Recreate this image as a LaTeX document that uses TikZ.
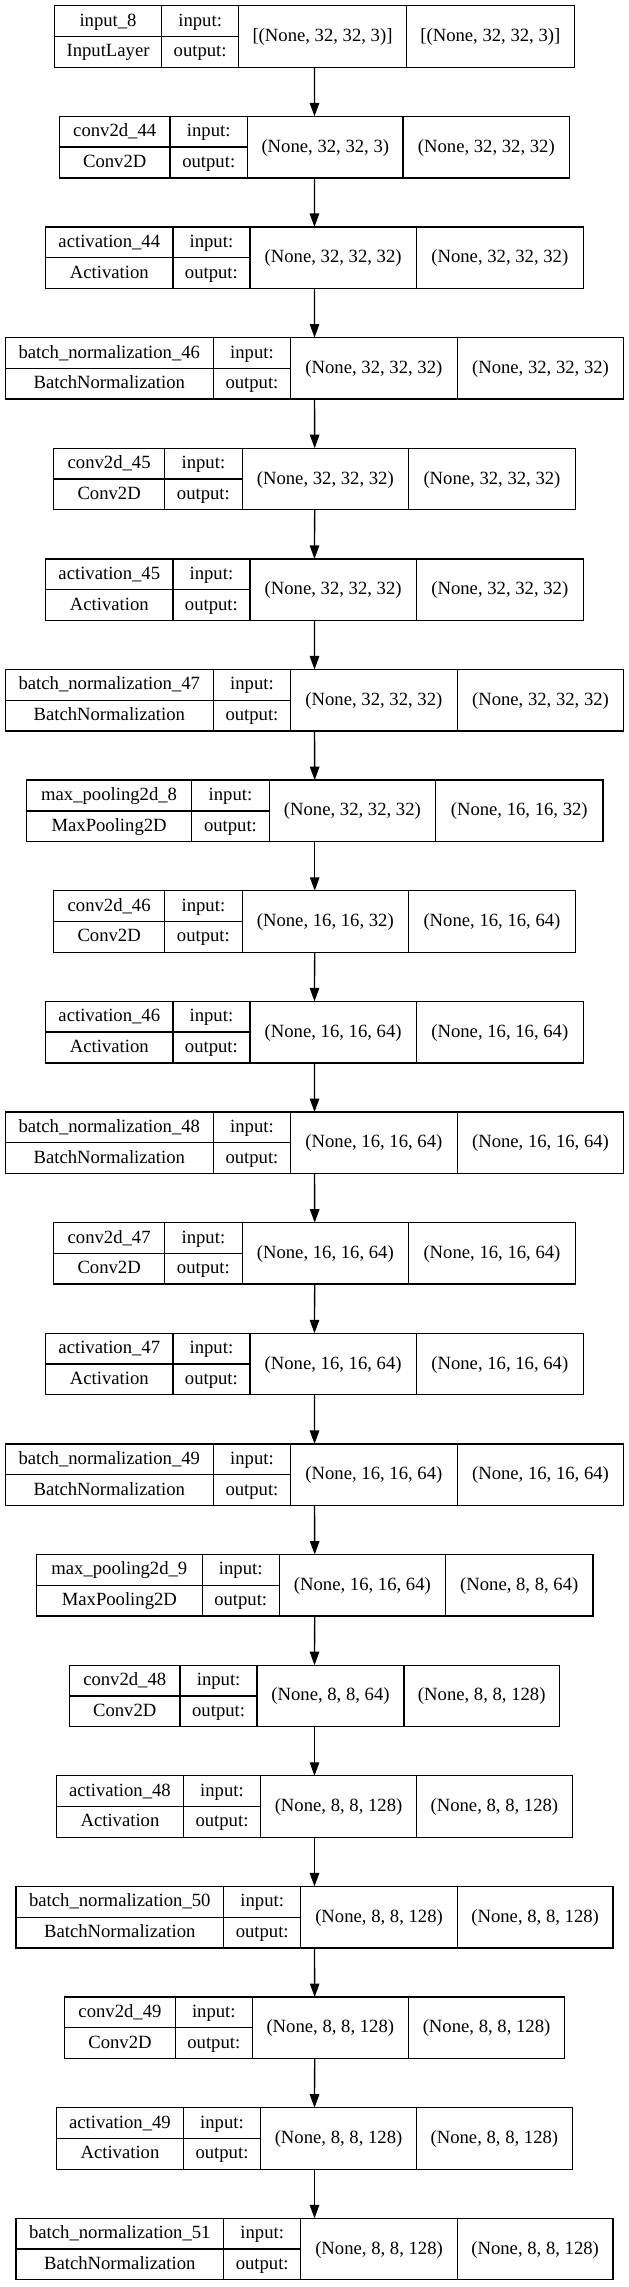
\documentclass[tikz,border=0pt]{standalone}
\usepackage{fontspec}
\setmainfont{Liberation Serif}
\usetikzlibrary{arrows.meta}
\tikzset{
  boxline/.style={line width=1.33pt, draw=black},
  frame/.style={draw=black, line width=1.33pt, inner sep=0pt, outer sep=0pt, minimum height=61.5pt},
  lbl/.style={inner sep=0pt, outer sep=0pt, font=\fontsize{18.67}{22}\selectfont, text height=13.44pt, text depth=3.36pt, anchor=center},
  flow/.style={line width=1.33pt, draw=black, -{Triangle[length=13.5pt,width=9.5pt]}}
}
\def\parsegeo#1/#2/#3/#4/#5\relax{\def\gL{#1}\def\gA{#2}\def\gB{#3}\def\gC{#4}\def\gR{#5}}
\newcommand\layerbox[6]{%
  \expandafter\parsegeo#2\relax
  \pgfmathsetmacro\yt{5.7+110.63*#1}%
  \pgfmathsetmacro\yb{\yt+61.5}%
  \pgfmathsetmacro\ym{\yt+30.75}%
  \pgfmathsetmacro\yu{\yt+15.375}%
  \pgfmathsetmacro\yl{\yt+46.125}%
  \pgfmathsetmacro\gW{\gR-\gL}%
  \pgfmathsetmacro\xc{(\gL+\gR)/2}%
  \pgfmathsetmacro\xn{(\gL+\gA)/2}%
  \pgfmathsetmacro\xi{(\gA+\gB)/2}%
  \pgfmathsetmacro\xs{(\gB+\gC)/2}%
  \pgfmathsetmacro\xt{(\gC+\gR)/2}%
  \node[frame, minimum width=\gW pt] (b#1) at (\xc,\ym) {};
  \draw[boxline] (\gA,\yt) -- (\gA,\yb) (\gB,\yt) -- (\gB,\yb) (\gC,\yt) -- (\gC,\yb) (\gL,\ym) -- (\gB,\ym);
  \node[lbl] (b#1n) at (\xn,\yu) {#3};
  \node[lbl] (b#1c) at (\xn,\yl) {#4};
  \node[lbl] (b#1i) at (\xi,\yu) {input:};
  \node[lbl] (b#1o) at (\xi,\yl) {output:};
  \node[lbl] (b#1s) at (\xs,\ym) {#5};
  \node[lbl] (b#1t) at (\xt,\ym) {#6};
}
\def\gInput{54.5/161.6/238.7/406.3/574.4}
\def\gConvA{59.4/170/247.5/403.1/569.6}
\def\gActA{45.7/172.9/249.9/416.4/583.2}
\def\gBNA{5.3/213.3/290.6/457.2/623.8}
\def\gConvB{53.8/164.5/242.3/408.3/575.6}
\def\gMPA{26.5/191.7/269.2/435.6/602.9}
\def\gMPB{36.5/202.2/279.2/445.6/592.9}
\def\gConvC{69.4/180.1/257.1/403.9/559.6}
\def\gActB{56.6/183.3/260.7/416.4/572.4}
\def\gBNB{16/223.6/300.8/457.3/613}
\def\gConvD{64.6/175.3/252.3/408.3/564.8}
\begin{document}
\begin{tikzpicture}[x=1pt,y=-1pt]
\useasboundingbox[fill=white] (0,0) rectangle (629,2287);
\layerbox{0}{\gInput}{input\_8}{InputLayer}{[(None, 32, 32, 3)]}{[(None, 32, 32, 3)]}
\layerbox{1}{\gConvA}{conv2d\_44}{Conv2D}{(None, 32, 32, 3)}{(None, 32, 32, 32)}
\layerbox{2}{\gActA}{activation\_44}{Activation}{(None, 32, 32, 32)}{(None, 32, 32, 32)}
\layerbox{3}{\gBNA}{batch\_normalization\_46}{BatchNormalization}{(None, 32, 32, 32)}{(None, 32, 32, 32)}
\layerbox{4}{\gConvB}{conv2d\_45}{Conv2D}{(None, 32, 32, 32)}{(None, 32, 32, 32)}
\layerbox{5}{\gActA}{activation\_45}{Activation}{(None, 32, 32, 32)}{(None, 32, 32, 32)}
\layerbox{6}{\gBNA}{batch\_normalization\_47}{BatchNormalization}{(None, 32, 32, 32)}{(None, 32, 32, 32)}
\layerbox{7}{\gMPA}{max\_pooling2d\_8}{MaxPooling2D}{(None, 32, 32, 32)}{(None, 16, 16, 32)}
\layerbox{8}{\gConvB}{conv2d\_46}{Conv2D}{(None, 16, 16, 32)}{(None, 16, 16, 64)}
\layerbox{9}{\gActA}{activation\_46}{Activation}{(None, 16, 16, 64)}{(None, 16, 16, 64)}
\layerbox{10}{\gBNA}{batch\_normalization\_48}{BatchNormalization}{(None, 16, 16, 64)}{(None, 16, 16, 64)}
\layerbox{11}{\gConvB}{conv2d\_47}{Conv2D}{(None, 16, 16, 64)}{(None, 16, 16, 64)}
\layerbox{12}{\gActA}{activation\_47}{Activation}{(None, 16, 16, 64)}{(None, 16, 16, 64)}
\layerbox{13}{\gBNA}{batch\_normalization\_49}{BatchNormalization}{(None, 16, 16, 64)}{(None, 16, 16, 64)}
\layerbox{14}{\gMPB}{max\_pooling2d\_9}{MaxPooling2D}{(None, 16, 16, 64)}{(None, 8, 8, 64)}
\layerbox{15}{\gConvC}{conv2d\_48}{Conv2D}{(None, 8, 8, 64)}{(None, 8, 8, 128)}
\layerbox{16}{\gActB}{activation\_48}{Activation}{(None, 8, 8, 128)}{(None, 8, 8, 128)}
\layerbox{17}{\gBNB}{batch\_normalization\_50}{BatchNormalization}{(None, 8, 8, 128)}{(None, 8, 8, 128)}
\layerbox{18}{\gConvD}{conv2d\_49}{Conv2D}{(None, 8, 8, 128)}{(None, 8, 8, 128)}
\layerbox{19}{\gActB}{activation\_49}{Activation}{(None, 8, 8, 128)}{(None, 8, 8, 128)}
\layerbox{20}{\gBNB}{batch\_normalization\_51}{BatchNormalization}{(None, 8, 8, 128)}{(None, 8, 8, 128)}
\foreach \i in {0,...,19}{%
  \pgfmathtruncatemacro\j{\i+1}%
  \draw[flow] (b\i.south) -- (b\j.north);
}
\end{tikzpicture}
\end{document}
